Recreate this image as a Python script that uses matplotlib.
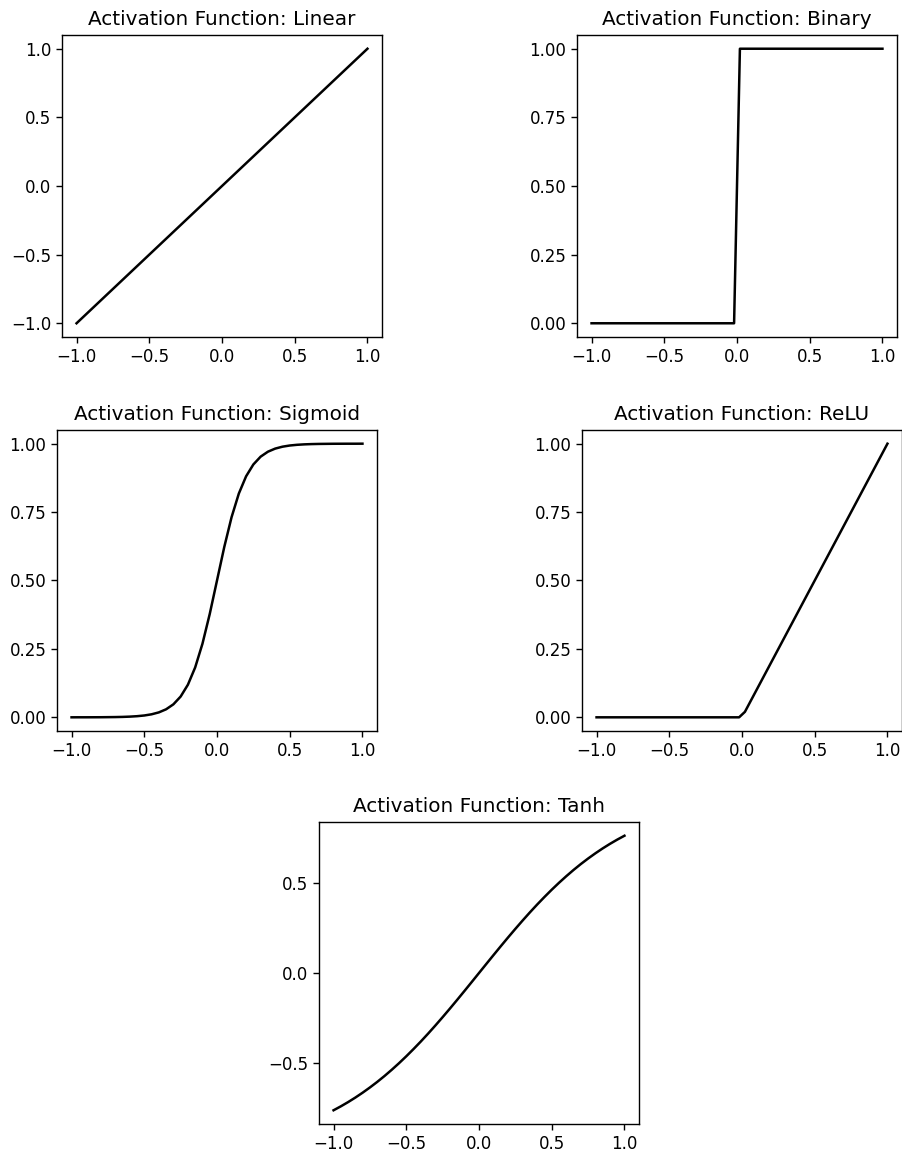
import matplotlib
matplotlib.use("Agg")
import matplotlib.pyplot as plt

# values
lin_x = [-1.0, 1.0]
lin_y = [-1.0, 1.0]

bin_x = [-1.0, -0.02, 0.02, 1.0]
bin_y = [0.0, 0.0, 1.0, 1.0]

relu_x = [-1.0, -0.02, 0.02, 1.0]
relu_y = [0.0, 0.0, 0.02, 1.0]

sig_x = [-1.0, -0.95, -0.9, -0.85, -0.8, -0.75, -0.7, -0.65, -0.6, -0.55,
         -0.5, -0.45, -0.4, -0.35, -0.3, -0.25, -0.2, -0.15, -0.1, -0.05,
         0.0, 0.05, 0.1, 0.15, 0.2, 0.25, 0.3, 0.35, 0.4, 0.45,
         0.5, 0.55, 0.6, 0.65, 0.7, 0.75, 0.8, 0.85, 0.9, 0.95, 1.0]
sig_y = [0.0000, 0.0001, 0.0001, 0.0002, 0.0003, 0.0006, 0.0009, 0.0015, 0.0025, 0.0041,
         0.0067, 0.0110, 0.0180, 0.0293, 0.0474, 0.0759, 0.1192, 0.1824, 0.2689, 0.3775,
         0.5000, 0.6225, 0.7311, 0.8176, 0.8808, 0.9241, 0.9526, 0.9707, 0.9820, 0.9890,
         0.9933, 0.9959, 0.9975, 0.9985, 0.9991, 0.9994, 0.9997, 0.9998, 0.9999, 0.9999, 1.0000]

tanh_x = sig_x
tanh_y = [-0.7616, -0.7398, -0.7163, -0.6911, -0.6640, -0.6351, -0.6044, -0.5717, -0.5370, -0.5005,
          -0.4621, -0.4218, -0.3800, -0.3364, -0.2913, -0.2449, -0.1974, -0.1489, -0.0997, -0.0500,
          0.0, 0.0500, 0.0997, 0.1489, 0.1974, 0.2449, 0.2913, 0.3364, 0.3800, 0.4218,
          0.4621, 0.5005, 0.5370, 0.5717, 0.6044, 0.6351, 0.6640, 0.6911, 0.7163, 0.7398, 0.7616]

titles = ["Linear", "Binary", "Sigmoid", "ReLU", "Tanh"]
series = [(lin_x, lin_y), (bin_x, bin_y), (sig_x, sig_y), (relu_x, relu_y), (tanh_x, tanh_y)]
x_ticks = [-1.0, -0.5, 0.0, 0.5, 1.0]
y_ticks = [[-1.0, -0.5, 0.0, 0.5, 1.0],
           [0.0, 0.25, 0.5, 0.75, 1.0],
           [0.0, 0.25, 0.5, 0.75, 1.0],
           [0.0, 0.25, 0.5, 0.75, 1.0],
           [-0.5, 0.0, 0.5]]

W, H = 902, 1155
# axes boxes in pixels: left, top, width, height
boxes = [(62, 35, 320, 302), (577, 35, 320, 302),
         (57, 430, 320, 301), (582, 430, 320, 301),
         (319, 822, 320, 302)]

fig = plt.figure(figsize=(W / 100, H / 100), dpi=100)
for (l, t, w, h), name, (xs, ys), yt in zip(boxes, titles, series, y_ticks):
    ax = fig.add_axes([l / W, 1 - (t + h) / H, w / W, h / H])
    ax.plot(xs, ys, color="black", linewidth=1.8)
    ax.set_title("Activation Function: " + name, fontsize=14.4, pad=7)
    ax.set_xticks(x_ticks)
    ax.set_yticks(yt)
    ax.tick_params(labelsize=12, length=4.2, width=1.0)
    for s in ax.spines.values():
        s.set_linewidth(1.0)

fig.savefig("out.png", dpi=100)
